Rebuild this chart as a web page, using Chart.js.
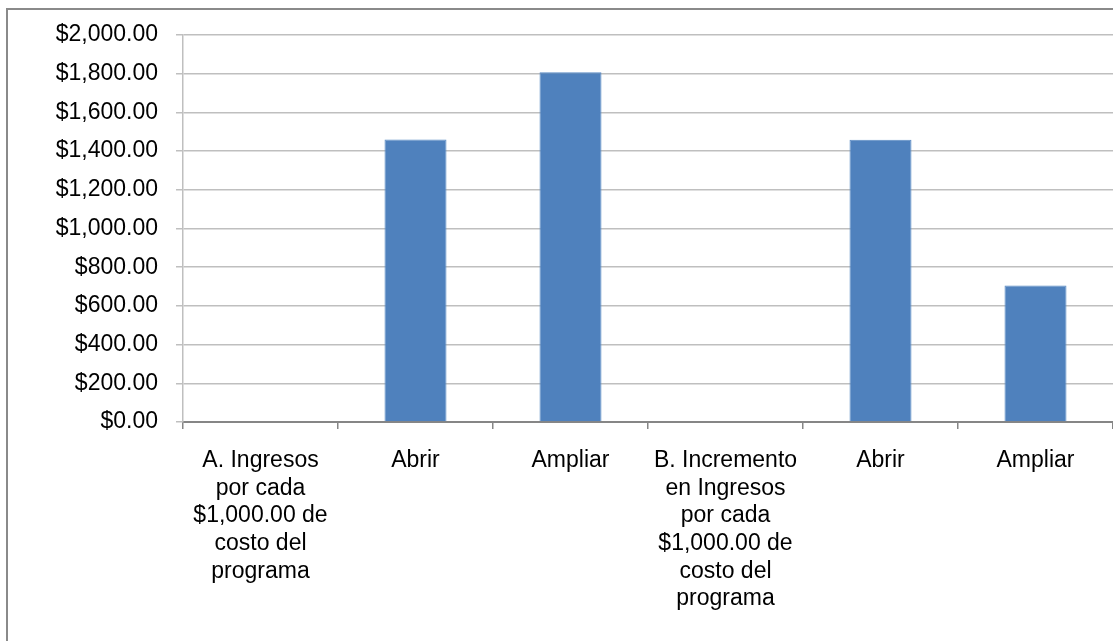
<!DOCTYPE html>
<html>
<head>
<meta charset="utf-8">
<script src="https://cdn.jsdelivr.net/npm/chart.js@4/dist/chart.umd.min.js"></script>
<style>
  html, body { margin: 0; padding: 0; background: #fff; overflow: hidden; }
  #wrap { position: relative; width: 1113px; height: 641px; overflow: hidden; }
  #frame { position: absolute; left: 6px; top: 8px; width: 1200px; height: 700px; border: 2px solid #8a8a8a; }
  #chart { position: absolute; left: 0; top: 0; }
</style>
</head>
<body>
<div id="wrap">
  <div id="frame"></div>
  <canvas id="chart" width="1113" height="641"></canvas>
</div>
<script>
// categorías (etiquetas en varias líneas)
const categories = [
    ['A. Ingresos', 'por cada', '$1,000.00 de', 'costo del', 'programa'],
    'Abrir',
    'Ampliar',
    ['B. Incremento', 'en Ingresos', 'por cada', '$1,000.00 de', 'costo del', 'programa'],
    'Abrir',
    'Ampliar'
];
const values = [null, 1460, 1808, null, 1459, 706];
const yMin = 0;
const yMax = 2000;
const yStep = 200;

const ctx = document.getElementById('chart').getContext('2d');

new Chart(ctx, {
    type: 'bar',
    data: {
        labels: categories,
        datasets: [{
            label: 'Valor',
            data: values,
            backgroundColor: '#4f81bd',
            borderColor: '#5a8ac4',
            borderWidth: 1,
            barPercentage: 0.4,
            categoryPercentage: 1.0
        }]
    },
    options: {
        responsive: false,
        animation: false,
        layout: { padding: { top: 35, right: 0, bottom: 0, left: 0 } },
        plugins: {
            legend: { display: false },
            tooltip: { enabled: false }
        },
        scales: {
            x: {
                afterFit: s => { s.height = 219; },
                grid: {
                    drawOnChartArea: false,
                    drawTicks: true,
                    tickLength: 7,
                    color: '#868686',
                    lineWidth: 1.5
                },
                border: { color: '#868686', width: 2 },
                ticks: {
                    color: '#000',
                    maxRotation: 0,
                    autoSkip: false,
                    padding: 18,
                    font: { family: '"Liberation Sans", Arial, sans-serif', size: 23, lineHeight: 1.2 }
                }
            },
            y: {
                min: yMin,
                max: yMax,
                afterFit: s => { s.width = 183; },
                grid: {
                    color: '#bfbfbf',
                    lineWidth: 1.5,
                    tickLength: 7
                },
                border: { color: '#bfbfbf', width: 1.5 },
                ticks: {
                    stepSize: yStep,
                    color: '#000',
                    padding: 18,
                    font: { family: '"Liberation Sans", Arial, sans-serif', size: 23 },
                    callback: v => '$' + Number(v).toLocaleString('en-US', { minimumFractionDigits: 2, maximumFractionDigits: 2 })
                }
            }
        }
    }
});
</script>
</body>
</html>
